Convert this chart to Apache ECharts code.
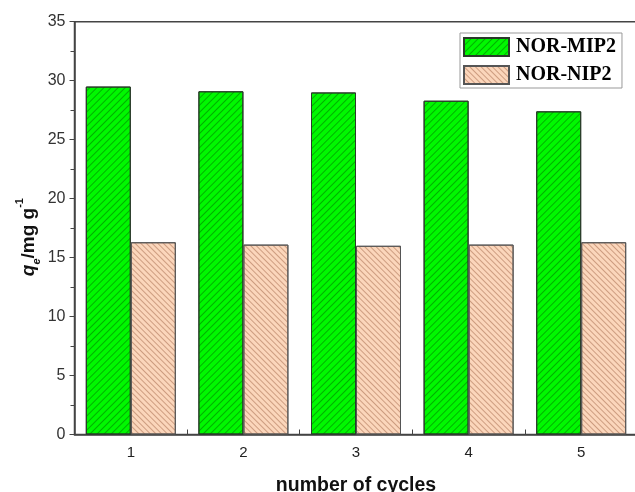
<!DOCTYPE html>
<html>
<head>
<meta charset="utf-8">
<script src="https://cdn.jsdelivr.net/npm/echarts@6/dist/echarts.min.js"></script>
<style>html,body{margin:0;padding:0;background:#fff}#c{width:635px;height:492px}</style>
</head>
<body>
<div id="c"></div>
<script>
const categories = ['1', '2', '3', '4', '5'];
const mipValues = [29.5, 29.1, 29.0, 28.3, 27.4];
const nipValues = [16.3, 16.1, 16.0, 16.1, 16.3];
const seriesNames = ['NOR-MIP2', 'NOR-NIP2'];
const yTicks = {min: 0, max: 35, interval: 5};

const chart = echarts.init(document.getElementById('c'), null, {renderer: 'canvas'});
const axisColor = '#444';
chart.setOption({
  animation: false,
  backgroundColor: '#fff',
  grid: {left: 74.5, right: -2.5, top: 21.7, bottom: 57.5, outerBoundsMode: 'none', containLabel: false, show: true, borderColor: axisColor, borderWidth: 1.5, backgroundColor: 'transparent'},
  legend: {
    left: 460, top: 33, orient: 'vertical',
    backgroundColor: '#fff', borderColor: '#999', borderWidth: 1,
    padding: [4, 6, 3, 3], itemGap: 8, itemWidth: 45, itemHeight: 18,
    icon: 'rect',
    textStyle: {fontFamily: 'Liberation Serif', fontWeight: 'bold', fontSize: 20, color: '#000', lineHeight: 18, padding: [0, 0, 0, 2]},
    data: seriesNames
  },
  xAxis: {
    type: 'category', data: categories,
    axisLine: {lineStyle: {color: axisColor, width: 1.5}},
    axisTick: {show: true, inside: true, length: 5, alignWithLabel: false, lineStyle: {color: axisColor}},
    axisLabel: {margin: 11, fontFamily: 'Liberation Sans', fontSize: 15, color: '#222'},
    name: 'number of cycles', nameLocation: 'middle', nameGap: 41,
    nameTextStyle: {fontFamily: 'Liberation Sans', fontWeight: 'bold', fontSize: 19.5, color: '#111'}
  },
  yAxis: {
    type: 'value', min: yTicks.min, max: yTicks.max, interval: yTicks.interval,
    splitLine: {show: false},
    axisLine: {show: true, lineStyle: {color: axisColor, width: 1.5}},
    axisTick: {show: true, inside: false, length: 5, lineStyle: {color: axisColor}},
    minorTick: {show: true, splitNumber: 2, length: 4, lineStyle: {color: axisColor}},
    axisLabel: {margin: 9, fontFamily: 'Liberation Sans', fontSize: 16, color: '#333'},
    name: '{q|q}{sub|e}{n|/mg g}{sup|-1}',
    nameLocation: 'middle', nameGap: 32, nameRotate: 90, nameMoveOverlap: false,
    nameTextStyle: {
      color: '#111',
      padding: [0, 18, 0, 0],
      rich: {
        q: {fontFamily: 'Liberation Sans', fontStyle: 'italic', fontWeight: 'bold', fontSize: 19, lineHeight: 28, color: '#111'},
        sub: {fontFamily: 'Liberation Sans', fontStyle: 'italic', fontWeight: 'bold', fontSize: 11, verticalAlign: 'bottom', color: '#111'},
        n: {fontFamily: 'Liberation Sans', fontWeight: 'bold', fontSize: 19, lineHeight: 28, color: '#111'},
        sup: {fontFamily: 'Liberation Sans', fontWeight: 'bold', fontSize: 11, verticalAlign: 'top', color: '#111'}
      }
    }
  },
  series: [
    {
      name: seriesNames[0], type: 'bar', data: mipValues, barWidth: 45, barGap: '0%',
      itemStyle: {
        color: '#00f800', borderColor: '#2a3a2a', borderWidth: 1,
        decal: {symbol: 'rect', symbolSize: 1, dashArrayX: [1, 0], dashArrayY: [1, 4], rotation: -Math.PI / 4, color: 'rgba(0,90,0,0.45)'}
      }
    },
    {
      name: seriesNames[1], type: 'bar', data: nipValues, barWidth: 45,
      itemStyle: {
        color: '#fbd6bb', borderColor: '#555', borderWidth: 1,
        decal: {symbol: 'rect', symbolSize: 1, dashArrayX: [1, 0], dashArrayY: [1, 2.6], rotation: Math.PI / 4, color: 'rgba(160,100,70,0.5)'}
      }
    }
  ]
});
</script>
</body>
</html>
